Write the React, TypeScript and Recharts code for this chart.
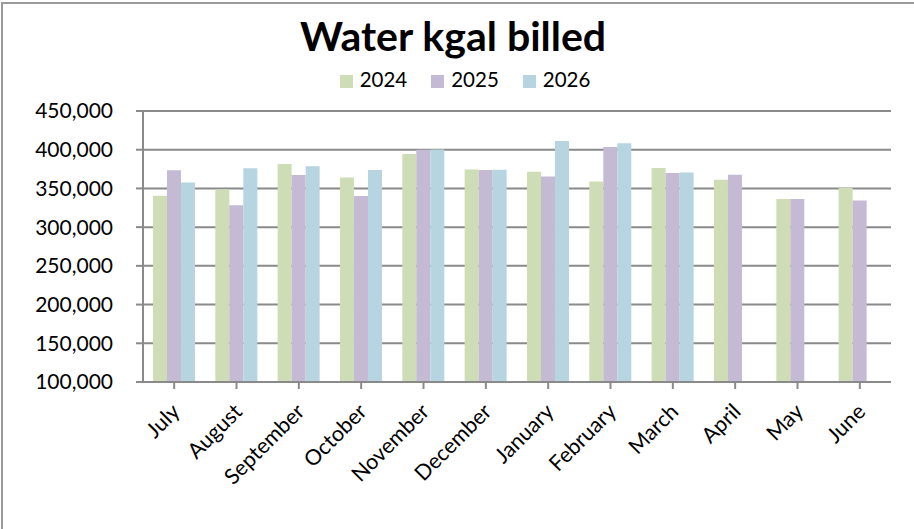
import React from 'react';
import { BarChart, Bar, XAxis, YAxis, CartesianGrid, Legend } from 'recharts';

const months = ['July', 'August', 'September', 'October', 'November', 'December', 'January', 'February', 'March', 'April', 'May', 'June'];
const y2024 = [340600, 349100, 381600, 364100, 394400, 374600, 371600, 359000, 376300, 361200, 336200, 350400];
const y2025 = [373600, 328200, 367500, 340200, 400000, 373700, 365500, 403400, 369800, 367700, 336200, 334500];
const y2026 = [357700, 376000, 378600, 373900, 400400, 374100, 411200, 408200, 370700, null, null, null];
const yTicks = [100000, 150000, 200000, 250000, 300000, 350000, 400000, 450000];

const data = months.map((m, i) => ({ month: m, '2024': y2024[i], '2025': y2025[i], '2026': y2026[i] }));

const FONT = 'Lato, Carlito, Calibri, sans-serif';
const fmt = (v: number) => v.toLocaleString('en-US');

const XTick = (props: any) => {
  const { x, y, payload } = props;
  const ax = x + 7;
  const ay = y + 22;
  return (
    <text x={ax} y={ay} transform={`rotate(-45, ${ax}, ${ay})`} textAnchor="end" fontFamily={FONT} fontSize={21.5} fill="#000">
      {payload.value}
    </text>
  );
};

export default function App() {
  return (
    <div style={{ position: 'absolute', left: 0, top: 0, width: 914, height: 529, background: '#fff', fontFamily: FONT }}>
      <div style={{ position: 'absolute', left: 1, top: 2, width: 913, height: 527, borderTop: '2px solid #9a9a9a', borderLeft: '2px solid #9a9a9a', boxSizing: 'border-box' }} />
      <div style={{ position: 'absolute', left: 0, top: 11, width: 906, textAlign: 'center', fontSize: 41, fontWeight: 700, color: '#000', fontFamily: FONT, lineHeight: 'normal' }}>
        Water kgal billed
      </div>
      <BarChart
        width={914}
        height={529}
        data={data}
        margin={{ top: 87, right: 23, bottom: 0, left: 0 }}
        barCategoryGap="16%"
        barGap={0}
      >
        <CartesianGrid vertical={false} stroke="#8a8a8a" strokeWidth={2} />
        <XAxis
          dataKey="month"
          interval={0}
          height={147}
          tick={<XTick />}
          tickLine={{ stroke: '#8a8a8a', strokeWidth: 2 }}
          axisLine={{ stroke: '#8a8a8a', strokeWidth: 2 }}
          tickSize={7}
        />
        <YAxis
          width={143}
          domain={[100000, 450000]}
          ticks={yTicks}
          allowDataOverflow
          tickFormatter={fmt}
          tick={{ fontFamily: FONT, fontSize: 21, fill: '#000' }}
          tickLine={{ stroke: '#8a8a8a', strokeWidth: 2 }}
          axisLine={{ stroke: '#8a8a8a', strokeWidth: 2 }}
          tickSize={7}
          tickMargin={23}
        />
        <Legend
          verticalAlign="top"
          align="center"
          iconType="square"
          iconSize={13}
          wrapperStyle={{ top: 67, left: 20, width: 914, height: 24, fontFamily: FONT, fontSize: 20.5, lineHeight: '24px' }}
          formatter={(v: string) => <span style={{ color: '#000', marginLeft: 3, marginRight: 14 }}>{v}</span>}
        />
        <Bar dataKey="2024" fill="#CEDDB6" isAnimationActive={false} />
        <Bar dataKey="2025" fill="#C4BAD3" isAnimationActive={false} />
        <Bar dataKey="2026" fill="#B6D5E0" isAnimationActive={false} />
      </BarChart>
    </div>
  );
}
